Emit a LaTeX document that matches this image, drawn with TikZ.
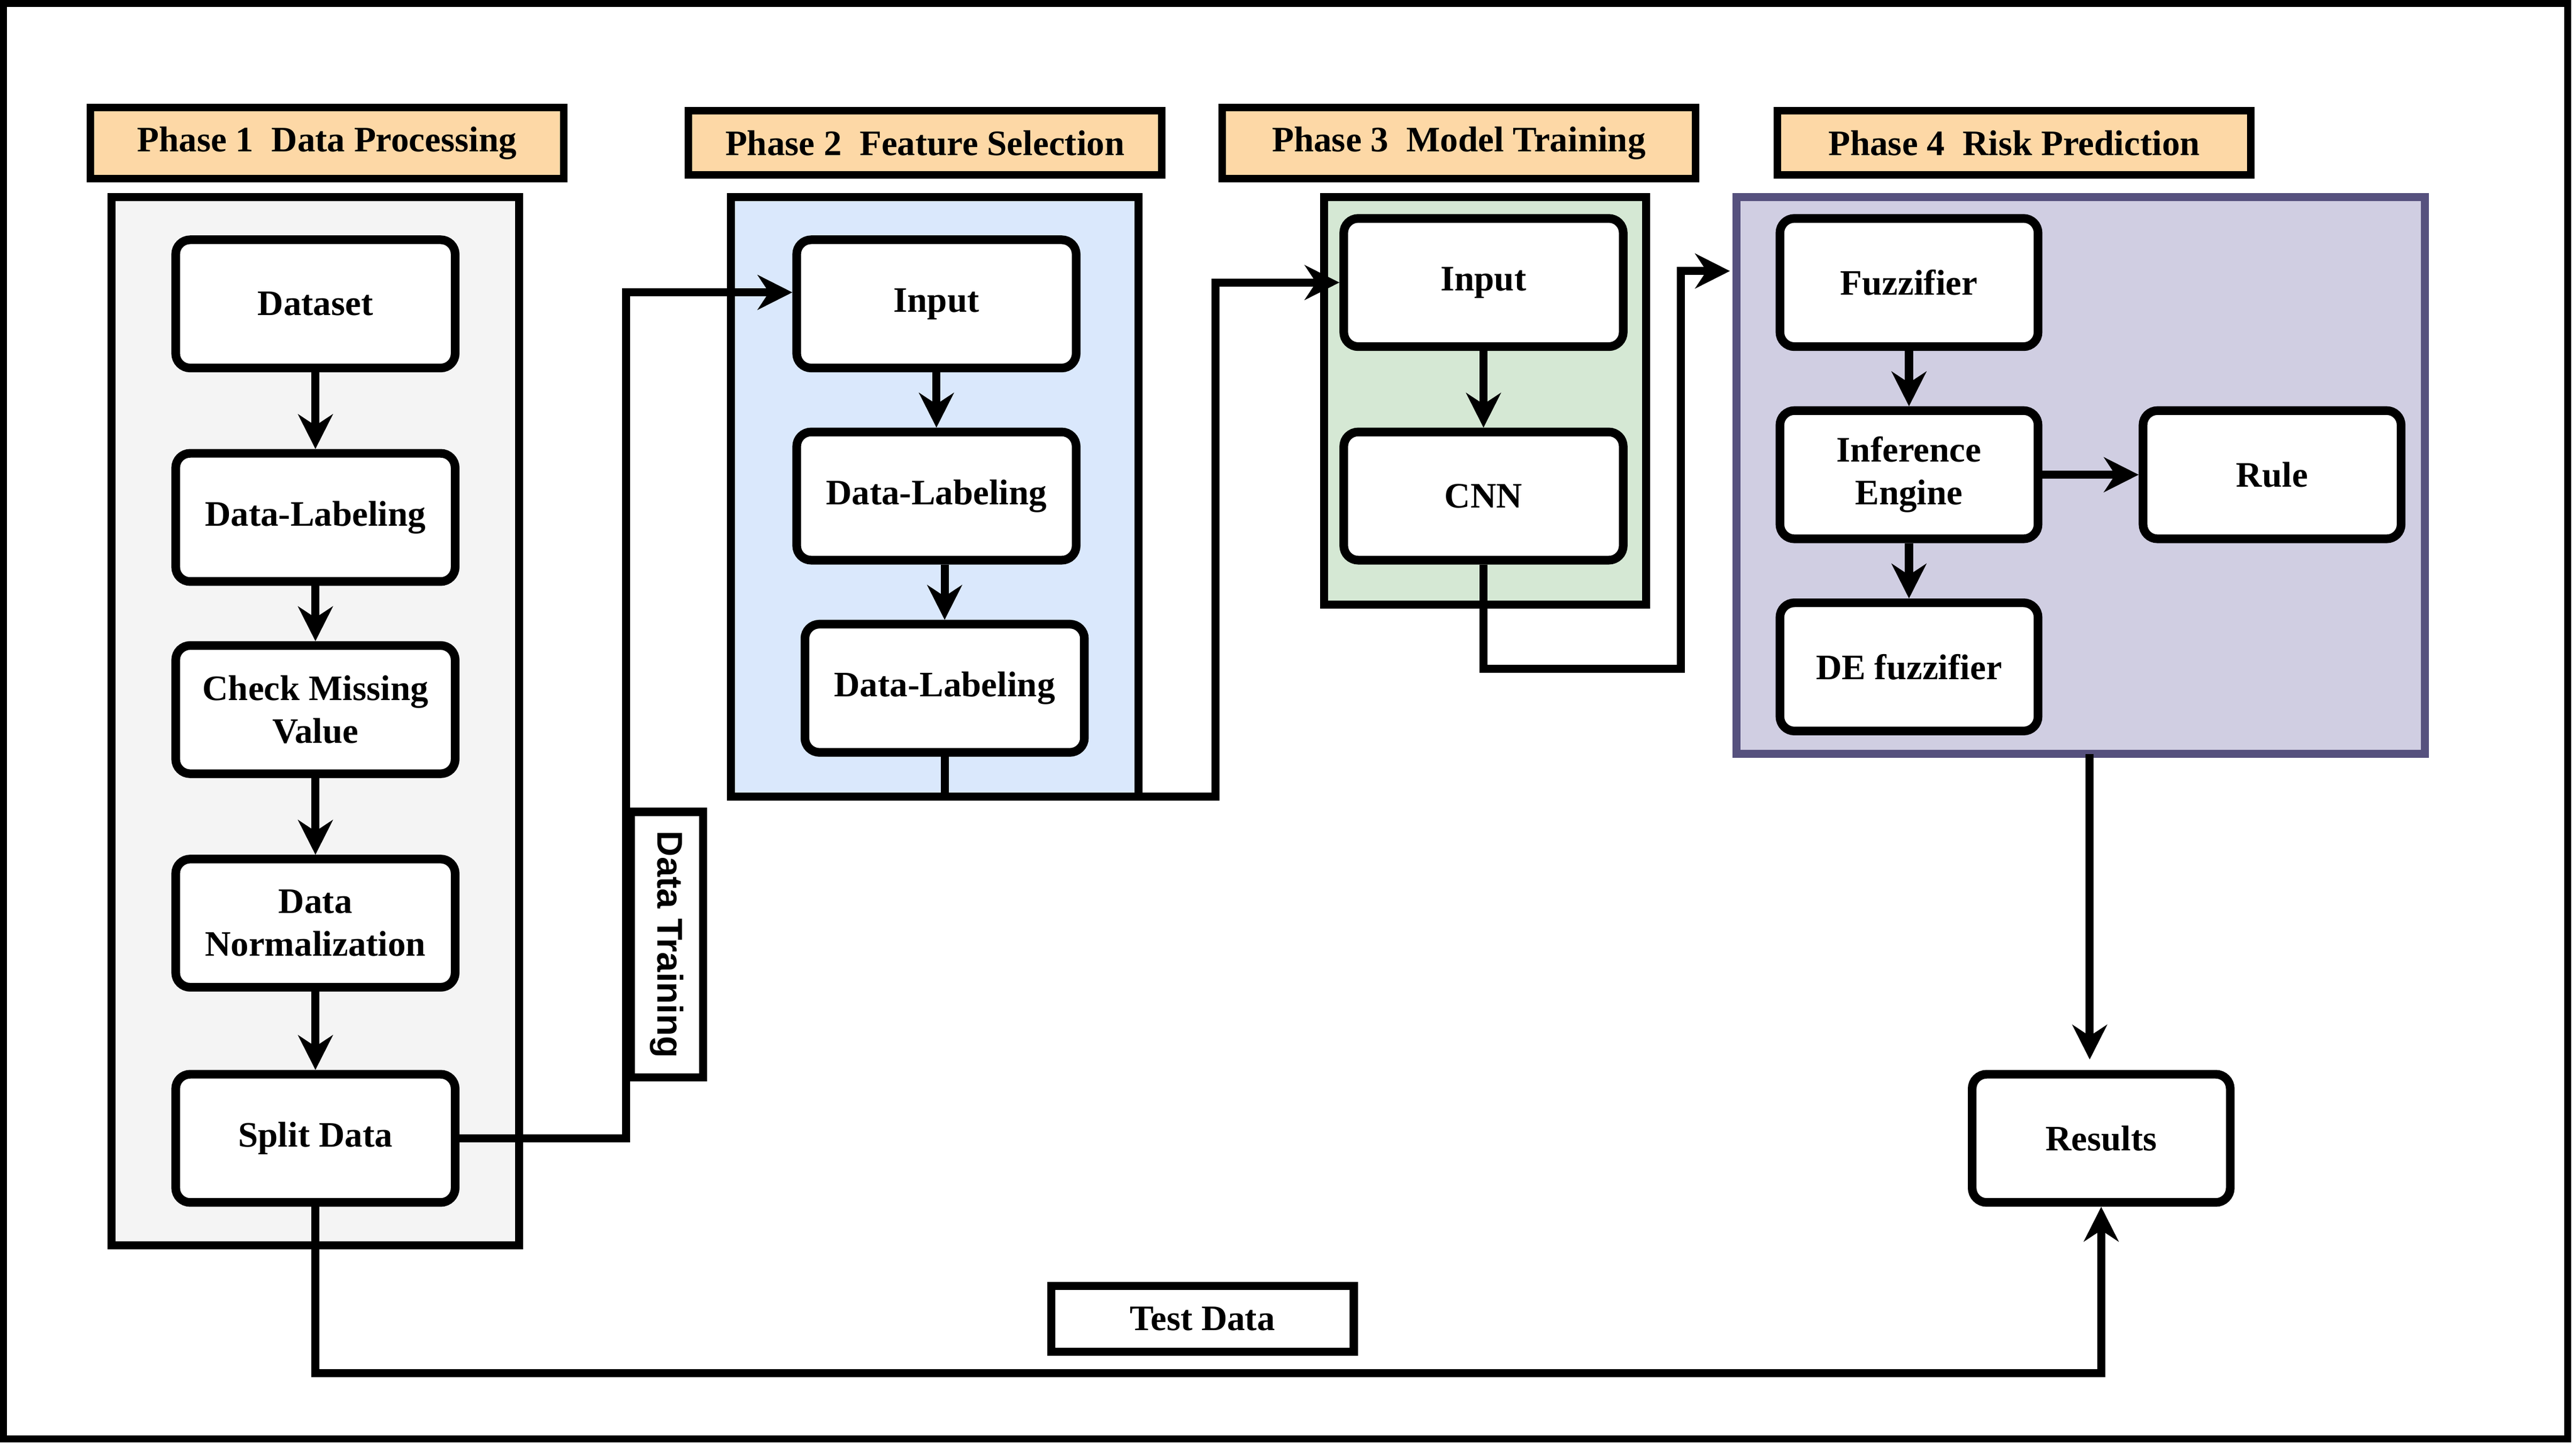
\documentclass[tikz,border=0pt]{standalone}
\usepackage{fontspec}
\setmainfont{Liberation Serif}
\newfontfamily\labelsans{Liberation Sans}
\usetikzlibrary{arrows.meta}
\definecolor{headfill}{HTML}{FDD8A6}
\definecolor{grayfill}{HTML}{F4F4F4}
\definecolor{bluefill}{HTML}{DAE8FC}
\definecolor{greenfill}{HTML}{D5E8D4}
\definecolor{purplefill}{HTML}{D0CEE2}
\definecolor{purpleline}{HTML}{56517E}
\tikzset{
	box/.style={draw, line width=1.5pt, rounded corners=2.5pt, minimum width=1.7cm, minimum height=0.78cm, align=center, font=\fontsize{6.2}{7.4}\selectfont\bfseries, fill=white},
	narrow/.style={box, minimum width=1.57cm},
	phase/.style={draw, line width=1.3pt, fill=headfill, minimum width=2.88cm, minimum height=0.39cm, font=\fontsize{6.2}{7.4}\selectfont\bfseries},
	group/.style={draw, line width=1.4pt},
	link/.style={line width=1.4pt, -{Stealth[length=6pt,width=6pt]}}
}
\begin{document}
\begin{tikzpicture}[x=0.01cm, y=-0.01cm]
	\useasboundingbox (0, 0) rectangle (1568, 879);
	\draw[line width=1.2pt] (2, 2) rectangle (1563, 876);

	\node[phase] (h1) at (199, 87) {Phase 1~~Data Processing};
	\node[phase] (h2) at (563, 87) {Phase 2~~Feature Selection};
	\node[phase] (h3) at (888, 87) {Phase 3~~Model Training};
	\node[phase] (h4) at (1226, 87) {Phase 4~~Risk Prediction};

	\draw[group, fill=grayfill] (68, 120) rectangle (316, 758);
	\draw[group, fill=bluefill] (445, 120) rectangle (693, 485);
	\draw[group, fill=greenfill] (806, 120) rectangle (1002, 368);
	\draw[group, fill=purplefill, draw=purpleline] (1057, 120) coordinate (p4) rectangle (1476, 459);

	\node[box] (dataset) at (192, 185) {Dataset};
	\node[box] (label1) at (192, 315) {Data-Labeling};
	\node[box] (missing) at (192, 432) {Check Missing\\Value};
	\node[box] (norm) at (192, 562) {Data\\Normalization};
	\node[box] (split) at (192, 693) {Split Data};

	\node[box] (input2) at (570, 185) {Input};
	\node[box] (label2) at (570, 302) {Data-Labeling};
	\node[box] (label3) at (575, 419) {Data-Labeling};

	\node[box] (input3) at (903, 172) {Input};
	\node[box] (cnn) at (903, 302) {CNN};

	\node[narrow] (fuzz) at (1162, 172) {Fuzzifier};
	\node[narrow] (infer) at (1162, 289) {Inference\\Engine};
	\node[narrow] (rule) at (1383, 289) {Rule};
	\node[narrow] (defuzz) at (1162, 406) {DE fuzzifier};
	\node[narrow] (results) at (1279, 693) {Results};

	\node[draw, line width=1.4pt, fill=white, rotate=-90, minimum width=1.57cm, minimum height=0.41cm, font=\labelsans\fontsize{6.2}{7.4}\selectfont\bfseries] (train) at (406, 575) {Data Training};
	\node[draw, line width=1.4pt, fill=white, minimum width=1.84cm, minimum height=0.4cm, font=\fontsize{6.2}{7.4}\selectfont\bfseries] (test) at (732, 803) {Test Data};

	\draw[link] (dataset) -- (label1);
	\draw[link] (label1) -- (missing);
	\draw[link] (missing) -- (norm);
	\draw[link] (norm) -- (split);
	\draw[link] (input2) -- (label2);
	\draw[link] (label2.south -| label3) -- (label3);
	\draw[link] (input3) -- (cnn);
	\draw[link] (fuzz) -- (infer);
	\draw[link] (infer) -- (defuzz);
	\draw[link] (infer) -- (rule);

	\draw[link] (split.east) -- (381, 693) -- (381, 178) -- (input2.west |- 0, 178);
	\draw[link] (label3.south) -- (575, 485) -- (740, 485) -- (740, 172) -- (input3.west);
	\draw[link] (cnn.south) -- (903, 407) -- (1023, 407) -- (1023, 165) -- (1053, 165);
	\draw[link] (1272, 459) -- (1272, 645);
	\draw[link] (split.south) -- (192, 836) -- (1279, 836) -- (results.south);
\end{tikzpicture}
\end{document}
